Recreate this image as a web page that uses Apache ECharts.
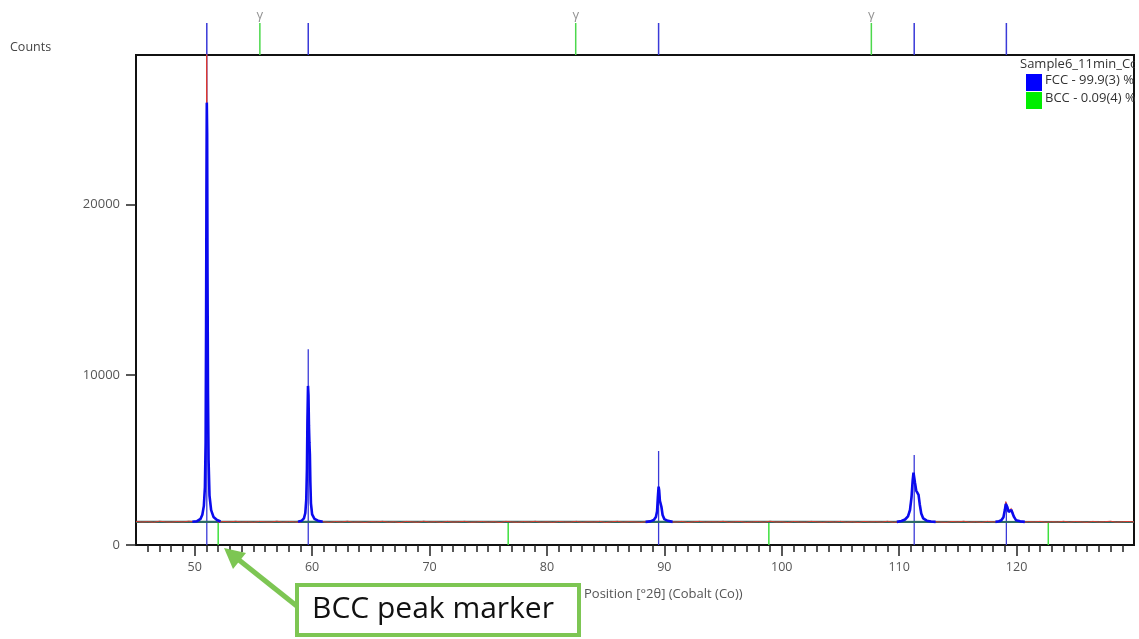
<!DOCTYPE html>
<html>
<head>
<meta charset="utf-8">
<title>Sample6_11min_Co</title>
<script src="https://cdn.jsdelivr.net/npm/echarts@6/dist/echarts.min.js"></script>
<style>
  html, body { margin: 0; padding: 0; background: #fff; }
  #chart { width: 1139px; height: 639px; }
</style>
</head>
<body>
<div id="chart"></div>
<script>
// ---- Data -------------------------------------------------------------
// Observed background counts, 45.0 to 130.0 °2θ in 0.5° steps
const bgStart = 45.0;
const bgStep = 0.5;
const observedBackground = [
  1385,1350,1372,1338,1396,1362,1344,1378,1356,1400,1368,1342,1390,1355,1330,1381,1360,1395,1347,1372,
  1338,1384,1362,1350,1399,1341,1376,1358,1322,1370,1389,1345,1366,1333,1380,1352,1397,1340,1364,1328,
  1375,1356,1392,1343,1368,1319,1384,1361,1336,1398,1350,1372,1329,1386,1347,1363,1391,1338,1356,1380,
  1344,1370,1325,1388,1359,1336,1377,1352,1394,1340,1368,1331,1383,1357,1345,1390,1334,1372,1349,1386,
  1328,1365,1391,1342,1374,1355,1333,1379,1361,1395,1339,1370,1348,1385,1326,1364,1389,1345,1371,1352,
  1393,1337,1366,1381,1330,1358,1376,1343,1397,1350,1369,1324,1382,1356,1340,1388,1362,1334,1375,1349,
  1387,1341,1368,1330,1384,1355,1372,1346,1394,1338,1360,1379,1327,1366,1390,1343,1373,1352,1335,1381,
  1358,1396,1340,1369,1332,1385,1353,1377,1344,1362,1391,1329,1374,1357,1386,1339,1368,1350,1395,1342,
  1379,1361,1334,1388,1352,1370,1397,1345,1366,1383,1358
];

// Observed counts around each reflection [2θ, counts]
const observedPeak1 = [[50.2,1420],[50.5,1560],[50.65,1800],[50.78,2350],[50.87,3500],[50.93,6200],[50.97,14500],[51.0,24000],[51.02,30500],[51.05,25000],[51.08,17000],[51.12,9500],[51.17,5200],[51.25,3000],[51.38,2100],[51.6,1650],[51.9,1480]];
const observedPeak2 = [[59.1,1430],[59.3,1580],[59.42,1900],[59.5,2700],[59.56,4600],[59.6,7500],[59.64,9200],[59.68,8900],[59.72,7200],[59.76,6200],[59.8,5400],[59.84,3800],[59.9,2500],[60.0,1850],[60.2,1560],[60.5,1440]];
const observedPeak3 = [[88.8,1400],[89.1,1480],[89.28,1650],[89.38,2000],[89.45,2800],[89.5,3350],[89.55,3150],[89.62,2650],[89.68,2500],[89.75,2200],[89.85,1750],[90.0,1520],[90.3,1420]];
const observedPeak4 = [[110.2,1430],[110.5,1520],[110.75,1720],[110.92,2150],[111.05,2900],[111.15,3800],[111.22,4200],[111.28,4250],[111.35,3700],[111.45,3250],[111.55,3200],[111.65,2900],[111.75,2400],[111.88,1850],[112.05,1580],[112.35,1440],[112.7,1390]];
const observedPeak5 = [[118.4,1390],[118.7,1460],[118.88,1650],[119.0,2100],[119.08,2550],[119.13,2650],[119.2,2300],[119.32,2000],[119.45,2050],[119.55,2150],[119.65,2000],[119.78,1680],[119.95,1470],[120.3,1390]];

// Calculated profile around each reflection [2θ, counts]
const calcPeak1 = [[49.8,1365],[50.2,1400],[50.5,1540],[50.65,1780],[50.78,2300],[50.87,3400],[50.93,6000],[50.97,13000],[51.0,20500],[51.03,26000],[51.06,24200],[51.09,16000],[51.13,9000],[51.18,5000],[51.26,2900],[51.4,2050],[51.6,1650],[51.9,1470],[52.2,1380]];
const calcPeak2 = [[58.8,1365],[59.1,1420],[59.3,1560],[59.42,1880],[59.5,2650],[59.56,4500],[59.6,7200],[59.65,9350],[59.69,8800],[59.73,7000],[59.77,6000],[59.81,5300],[59.85,3700],[59.9,2450],[60.0,1800],[60.2,1540],[60.5,1430],[60.9,1365]];
const calcPeak3 = [[88.4,1360],[88.8,1390],[89.1,1470],[89.28,1640],[89.38,1980],[89.45,2850],[89.51,3430],[89.56,3200],[89.62,2600],[89.68,2520],[89.75,2250],[89.85,1760],[90.0,1520],[90.3,1420],[90.7,1360]];
const calcPeak4 = [[109.8,1360],[110.2,1410],[110.5,1500],[110.75,1680],[110.92,2050],[111.05,2800],[111.15,3800],[111.22,4250],[111.28,4310],[111.35,3650],[111.45,3200],[111.55,3150],[111.65,2950],[111.75,2400],[111.88,1850],[112.05,1560],[112.35,1430],[112.7,1380],[113.1,1360]];
const calcPeak5 = [[118.2,1360],[118.5,1400],[118.7,1450],[118.88,1630],[119.0,2050],[119.08,2420],[119.13,2490],[119.2,2250],[119.32,1950],[119.45,1980],[119.55,2060],[119.65,1950],[119.78,1650],[119.95,1460],[120.3,1390],[120.7,1360]];

// Refined background level [2θ, counts]
const backgroundLine = [[45,1362],[70,1358],[100,1355],[130,1352]];

// Phase reflection markers (°2θ) and stick intensities
const fccPositions = [51.03, 59.67, 89.51, 111.28, 119.13];
const fccIntensities = [30000, 11500, 5530, 5290, 2490];
const bccPositions = [52.0, 76.7, 98.9, 122.7];
const bccIntensities = [1330, 1330, 1330, 1330];
const gammaPositions = [55.55, 82.45, 107.63];

// Axis ticks
const xMajorTicks = [50, 60, 70, 80, 90, 100, 110, 120];
const xMinorTicks = [];
for (let v = 46; v <= 129; v++) xMinorTicks.push(v);
const yTicks = [0, 10000, 20000];

// Legend rows
const legendTitle = 'Sample6_11min_Co';
const legendLabels = ['FCC - 99.9(3) %', 'BCC - 0.09(4) %'];

// ---- Assemble series data --------------------------------------------
const observedPeaks = [observedPeak1, observedPeak2, observedPeak3, observedPeak4, observedPeak5];
const calcPeaks = [calcPeak1, calcPeak2, calcPeak3, calcPeak4, calcPeak5];

const observed = [];
observedBackground.forEach((c, i) => {
  const x = bgStart + i * bgStep;
  const inside = observedPeaks.some(p => x >= p[0][0] && x <= p[p.length - 1][0]);
  if (!inside) observed.push([x, c]);
});
observedPeaks.forEach(p => p.forEach(pt => observed.push(pt)));
observed.sort((a, b) => a[0] - b[0]);

const calculated = [];
calcPeaks.forEach((p, i) => {
  if (i > 0) calculated.push([p[0][0], '-']);
  p.forEach(pt => calculated.push(pt));
});

function sticks(positions, heights) {
  const out = [];
  positions.forEach((x, i) => {
    out.push([x, 0], [x, heights[i]], [x, '-']);
  });
  return out;
}

const FONT = '"Open Sans", "Noto Sans", sans-serif';
const GRID_LEFT = 136, GRID_WIDTH = 998, GRID_TOP = 55, GRID_HEIGHT = 490;

const chart = echarts.init(document.getElementById('chart'), null, { renderer: 'canvas' });

chart.setOption({
  animation: false,
  backgroundColor: '#ffffff',
  textStyle: { fontFamily: FONT },
  grid: [
    { left: GRID_LEFT, top: GRID_TOP, width: GRID_WIDTH, height: GRID_HEIGHT,
      show: true, borderColor: '#111', borderWidth: 2, backgroundColor: 'transparent' },
    { left: GRID_LEFT, top: 23, width: GRID_WIDTH, height: 32, show: false }
  ],
  xAxis: [
    {
      gridIndex: 0, type: 'value', min: 45, max: 130, position: 'bottom',
      axisLine: { show: true, lineStyle: { color: '#111', width: 2 } },
      axisTick: { show: true, customValues: xMajorTicks, length: 11, lineStyle: { color: '#222', width: 1.5 } },
      axisLabel: { show: true, customValues: xMajorTicks, color: '#555', fontSize: 12.5, margin: 16, fontFamily: FONT },
      splitLine: { show: false }
    },
    {
      gridIndex: 0, type: 'value', min: 45, max: 130, position: 'bottom',
      axisLine: { show: false },
      axisTick: { show: true, customValues: xMinorTicks, length: 7, lineStyle: { color: '#222', width: 1.5 } },
      axisLabel: { show: false },
      splitLine: { show: false }
    },
    { gridIndex: 1, type: 'value', min: 45, max: 130, show: false }
  ],
  yAxis: [
    {
      gridIndex: 0, type: 'value', min: 0, max: 28800,
      axisLine: { show: true, lineStyle: { color: '#111', width: 2 } },
      axisTick: { show: true, customValues: yTicks, length: 10, lineStyle: { color: '#222', width: 1.5 } },
      axisLabel: { show: true, customValues: yTicks, formatter: v => String(v), color: '#555', fontSize: 13, margin: 16, fontFamily: FONT },
      splitLine: { show: false }
    },
    { gridIndex: 1, type: 'value', min: 0, max: 1, show: false }
  ],
  series: [
    {
      name: 'FCC sticks', type: 'line', xAxisIndex: 0, yAxisIndex: 0,
      data: sticks(fccPositions, fccIntensities), showSymbol: false, connectNulls: false,
      lineStyle: { color: '#3a3ad8', width: 1.3 }, silent: true, z: 2
    },
    {
      name: 'BCC sticks', type: 'line', xAxisIndex: 0, yAxisIndex: 0,
      data: sticks(bccPositions, bccIntensities), showSymbol: false, connectNulls: false,
      lineStyle: { color: '#3ee03e', width: 1.5 }, silent: true, z: 2
    },
    {
      name: 'Background', type: 'line', xAxisIndex: 0, yAxisIndex: 0,
      data: backgroundLine, showSymbol: false,
      lineStyle: { color: '#2d6a64', width: 2.2 }, silent: true, z: 3
    },
    {
      name: 'Observed', type: 'line', xAxisIndex: 0, yAxisIndex: 0,
      data: observed, showSymbol: false,
      lineStyle: { color: '#de3a2c', width: 1 }, silent: true, z: 4
    },
    {
      name: 'Calculated', type: 'line', xAxisIndex: 0, yAxisIndex: 0,
      data: calculated, showSymbol: false, connectNulls: false,
      lineStyle: { color: '#0a0aee', width: 2.6 }, silent: true, z: 5
    },
    {
      name: 'FCC markers', type: 'line', xAxisIndex: 2, yAxisIndex: 1,
      data: sticks(fccPositions, fccPositions.map(() => 1)), showSymbol: false, connectNulls: false,
      lineStyle: { color: '#3a3ad8', width: 1.5 }, silent: true, clip: false
    },
    {
      name: 'BCC markers', type: 'line', xAxisIndex: 2, yAxisIndex: 1,
      data: sticks(gammaPositions, gammaPositions.map(() => 1)), showSymbol: false, connectNulls: false,
      lineStyle: { color: '#4cd84c', width: 1.5 }, silent: true, clip: false
    },
    {
      name: 'γ labels', type: 'scatter', xAxisIndex: 2, yAxisIndex: 1,
      data: gammaPositions.map(x => [x, 1]), symbolSize: 0, silent: true,
      label: { show: true, position: 'top', distance: 1, formatter: 'γ', color: '#777', fontSize: 13, fontFamily: FONT }
    }
  ],
  graphic: [
    { type: 'text', left: 10, top: 41, silent: true,
      style: { text: 'Counts', fill: '#444', font: '12.5px ' + FONT } },
    { type: 'text', left: 584, top: 588, silent: true,
      style: { text: 'Position [°2θ] (Cobalt (Co))', fill: '#555', font: '13px ' + FONT } },
    // legend block
    { type: 'text', left: 1020, top: 58, silent: true, z: 10,
      style: { text: legendTitle, fill: '#333', font: '13px ' + FONT } },
    { type: 'rect', silent: true, z: 10, shape: { x: 1026, y: 74, width: 16, height: 17 }, style: { fill: '#0000ff' } },
    { type: 'text', left: 1045, top: 74, silent: true, z: 10,
      style: { text: legendLabels[0], fill: '#333', font: '13px ' + FONT } },
    { type: 'rect', silent: true, z: 10, shape: { x: 1026, y: 92, width: 16, height: 17 }, style: { fill: '#00ee00' } },
    { type: 'text', left: 1045, top: 92, silent: true, z: 10,
      style: { text: legendLabels[1], fill: '#333', font: '13px ' + FONT } },
    { type: 'rect', silent: true, z: 11, shape: { x: 1135, y: 56, width: 6, height: 60 }, style: { fill: '#ffffff' } },
    // callout
    { type: 'line', silent: true, z: 20,
      shape: { x1: 239, y1: 560, x2: 298, y2: 607 },
      style: { stroke: '#7dc653', lineWidth: 5 } },
    { type: 'polygon', silent: true, z: 20,
      shape: { points: [[224, 548], [246, 553], [233, 569]] },
      style: { fill: '#7dc653' } },
    { type: 'rect', silent: true, z: 20,
      shape: { x: 297, y: 585, width: 282, height: 50 },
      style: { fill: '#ffffff', stroke: '#7dc653', lineWidth: 4 } },
    { type: 'text', left: 312, top: 594, silent: true, z: 21,
      style: { text: 'BCC peak marker', fill: '#111', font: '30px ' + FONT } }
  ]
});
</script>
</body>
</html>
